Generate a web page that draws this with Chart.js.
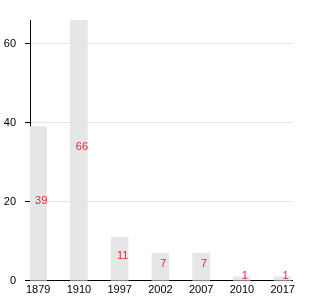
<!DOCTYPE html>
<html>
<head>
<meta charset="utf-8">
<script src="https://cdn.jsdelivr.net/npm/chart.js@4/dist/chart.umd.min.js"></script>
<style>
  html, body { margin: 0; padding: 0; background: #fff; }
  #wrap { width: 330px; height: 300px; }
</style>
</head>
<body>
<div id="wrap"><canvas id="mychart"></canvas></div>
<script>
var years = ["1879", "1910", "1997", "2002", "2007", "2010", "2017"]
var counts = [39, 66, 11, 7, 7, 1, 1]
var yTicks = [0, 20, 40, 60]

// bars sit on index positions 0..6 of a linear axis
var points = counts.map(function (v, i) { return { x: i, y: v } })

var valueLabels = {
  id: 'valueLabels',
  afterDatasetsDraw: function (chart) {
    var ctx = chart.ctx
    var meta = chart.getDatasetMeta(0)
    ctx.save()
    ctx.fillStyle = '#e8213f'
    ctx.font = '11px "Liberation Sans", Arial, sans-serif'
    ctx.textAlign = 'center'
    ctx.textBaseline = 'middle'
    meta.data.forEach(function (bar, i) {
      ctx.fillText(String(counts[i]), bar.x + 3, (bar.y + bar.base) / 2 - 3)
    })
    ctx.restore()
  }
}

var chart = new Chart(document.getElementById('mychart').getContext('2d'), {
  type: 'bar',
  data: {
    datasets: [{
      data: points,
      backgroundColor: '#e6e6e6',
      barThickness: 17
    }]
  },
  options: {
    responsive: true,
    maintainAspectRatio: false,
    animation: false,
    layout: { padding: { top: 20, right: 38, bottom: 0, left: 4 } },
    plugins: { legend: { display: false }, tooltip: { enabled: false } },
    scales: {
      x: {
        type: 'linear',
        offset: false,
        min: -0.2,
        max: 6.23,
        grid: { display: false, drawTicks: false },
        border: { display: true, color: '#000', width: 1 },
        ticks: {
          stepSize: 1,
          includeBounds: false,
          autoSkip: false,
          maxRotation: 0,
          padding: 3,
          color: '#000',
          font: { family: '"Liberation Sans", Arial, sans-serif', size: 11 },
          callback: function (v) { return years[v] }
        }
      },
      y: {
        min: 0,
        max: 66,
        afterBuildTicks: function (axis) {
          axis.ticks = yTicks.map(function (v) { return { value: v } })
        },
        afterFit: function (axis) { axis.width = 26 },
        grid: { color: '#e4e4e4', tickColor: '#000', tickLength: 5 },
        border: { display: true, color: '#000', width: 1 },
        ticks: {
          padding: 9,
          color: '#000',
          font: { family: '"Liberation Sans", Arial, sans-serif', size: 11 }
        }
      }
    }
  },
  plugins: [valueLabels]
})
</script>
</body>
</html>
